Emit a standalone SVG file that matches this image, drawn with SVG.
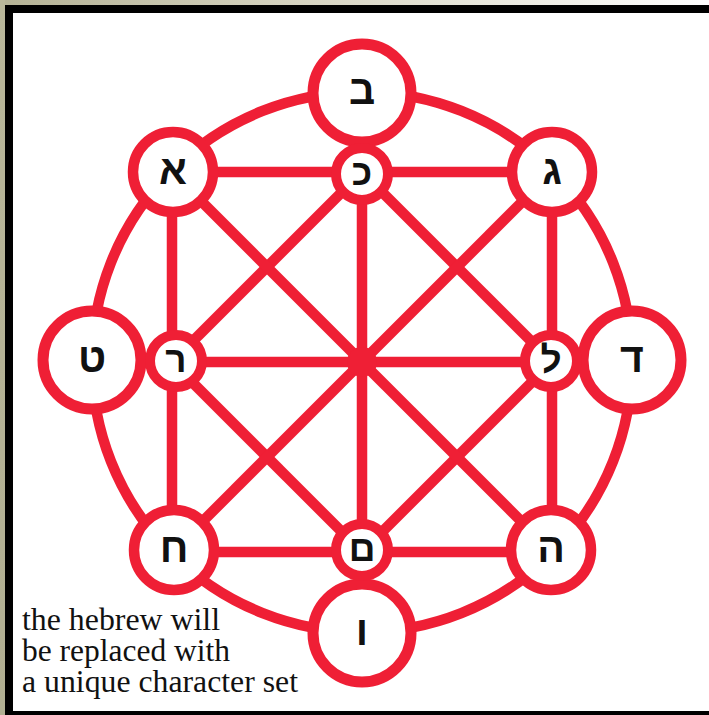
<svg xmlns="http://www.w3.org/2000/svg" width="709" height="715" viewBox="0 0 709 715">
  <defs>
    <linearGradient id="topg" x1="0" y1="0" x2="1" y2="0">
      <stop offset="0" stop-color="#b4b295"/>
      <stop offset="0.45" stop-color="#d8d6c4"/>
      <stop offset="1" stop-color="#ffffff"/>
    </linearGradient>
    <linearGradient id="leftg" x1="0" y1="0" x2="0" y2="1">
      <stop offset="0" stop-color="#b9b79a"/>
      <stop offset="1" stop-color="#b1af92"/>
    </linearGradient>
    <style>
      .c { stroke: #ef1f35; stroke-width: 10.5; stroke-linecap: butt; fill: none; }
      .n { fill: #ffffff; stroke: #ef1f35; }
      .big { stroke-width: 11; }
      .mid { stroke-width: 10.5; }
      .sm { stroke-width: 10; }
      .h { font-family: "Liberation Sans", "DejaVu Sans", sans-serif; font-weight: bold; fill: #111; text-anchor: middle; }
      .note { font-family: "Liberation Serif", "DejaVu Serif", serif; font-size: 31px; fill: #111; }
    </style>
  </defs>

  <!-- frame -->
  <rect x="0" y="0" width="709" height="715" fill="#ffffff"/>
  <rect x="0" y="0" width="709" height="5" fill="url(#topg)"/>
  <rect x="0" y="0" width="5" height="715" fill="url(#leftg)"/>
  <rect x="5" y="5" width="704" height="8" fill="#000"/>
  <rect x="5" y="5" width="8" height="710" fill="#000"/>
  <rect x="5" y="711" width="704" height="4" fill="#000"/>

  <g id="connectors">
    <circle class="c" cx="362" cy="362" r="270" stroke-width="11"/>
    <!-- square -->
    <line class="c" x1="172" y1="172" x2="362" y2="172"/>
    <line class="c" x1="362" y1="172" x2="552" y2="172"/>
    <line class="c" x1="552" y1="172" x2="552" y2="362"/>
    <line class="c" x1="552" y1="362" x2="552" y2="552"/>
    <line class="c" x1="552" y1="552" x2="362" y2="552"/>
    <line class="c" x1="362" y1="552" x2="172" y2="552"/>
    <line class="c" x1="172" y1="552" x2="172" y2="362"/>
    <line class="c" x1="172" y1="362" x2="172" y2="172"/>
    <!-- diamond -->
    <line class="c" x1="362" y1="172" x2="552" y2="362"/>
    <line class="c" x1="552" y1="362" x2="362" y2="552"/>
    <line class="c" x1="362" y1="552" x2="172" y2="362"/>
    <line class="c" x1="172" y1="362" x2="362" y2="172"/>
    <!-- through centre -->
    <line class="c" x1="172" y1="172" x2="552" y2="552"/>
    <line class="c" x1="552" y1="172" x2="172" y2="552"/>
    <line class="c" x1="362" y1="172" x2="362" y2="552"/>
    <line class="c" x1="172" y1="362" x2="552" y2="362"/>
    <circle cx="362" cy="362" r="15" fill="#ef1f35"/>
  </g>

  <!-- outer cardinal nodes -->
  <g id="node-bet"><circle class="n big" cx="362" cy="93" r="49"/><text class="h" x="362" y="104" font-size="41">ב</text></g>
  <g id="node-dalet"><circle class="n big" cx="632" cy="360" r="49"/><text class="h" x="632" y="372" font-size="41">ד</text></g>
  <g id="node-vav"><circle class="n big" cx="362" cy="633" r="49"/><text class="h" x="362" y="645" font-size="41">ו</text></g>
  <g id="node-tet"><circle class="n big" cx="92" cy="360" r="49"/><text class="h" x="92" y="372" font-size="41">ט</text></g>

  <!-- diagonal nodes -->
  <g id="node-alef"><circle class="n mid" cx="173" cy="172" r="40"/><text class="h" x="173" y="184" font-size="41">א</text></g>
  <g id="node-gimel"><circle class="n mid" cx="552" cy="172" r="40"/><text class="h" x="552" y="184" font-size="41">ג</text></g>
  <g id="node-he"><circle class="n mid" cx="551" cy="550" r="40"/><text class="h" x="551" y="562" font-size="41">ה</text></g>
  <g id="node-het"><circle class="n mid" cx="174" cy="550" r="40"/><text class="h" x="174" y="562" font-size="41">ח</text></g>

  <!-- inner nodes -->
  <g id="node-kaf"><circle class="n sm" cx="362" cy="174" r="26"/><text class="h" x="362" y="185" font-size="37">כ</text></g>
  <g id="node-lamed"><circle class="n sm" cx="551" cy="361" r="26"/><text class="h" x="551" y="372" font-size="37">ל</text></g>
  <g id="node-mem"><circle class="n sm" cx="362" cy="550" r="26"/><text class="h" x="362" y="561" font-size="37">ם</text></g>
  <g id="node-resh"><circle class="n sm" cx="176" cy="361" r="26"/><text class="h" x="176" y="372" font-size="37">ר</text></g>

  <g id="note">
    <text class="note" x="22" y="630" textLength="198" lengthAdjust="spacingAndGlyphs">the hebrew will</text>
    <text class="note" x="22" y="661" textLength="208" lengthAdjust="spacingAndGlyphs">be replaced with</text>
    <text class="note" x="22" y="692" textLength="276" lengthAdjust="spacingAndGlyphs">a unique character set</text>
  </g>
</svg>
